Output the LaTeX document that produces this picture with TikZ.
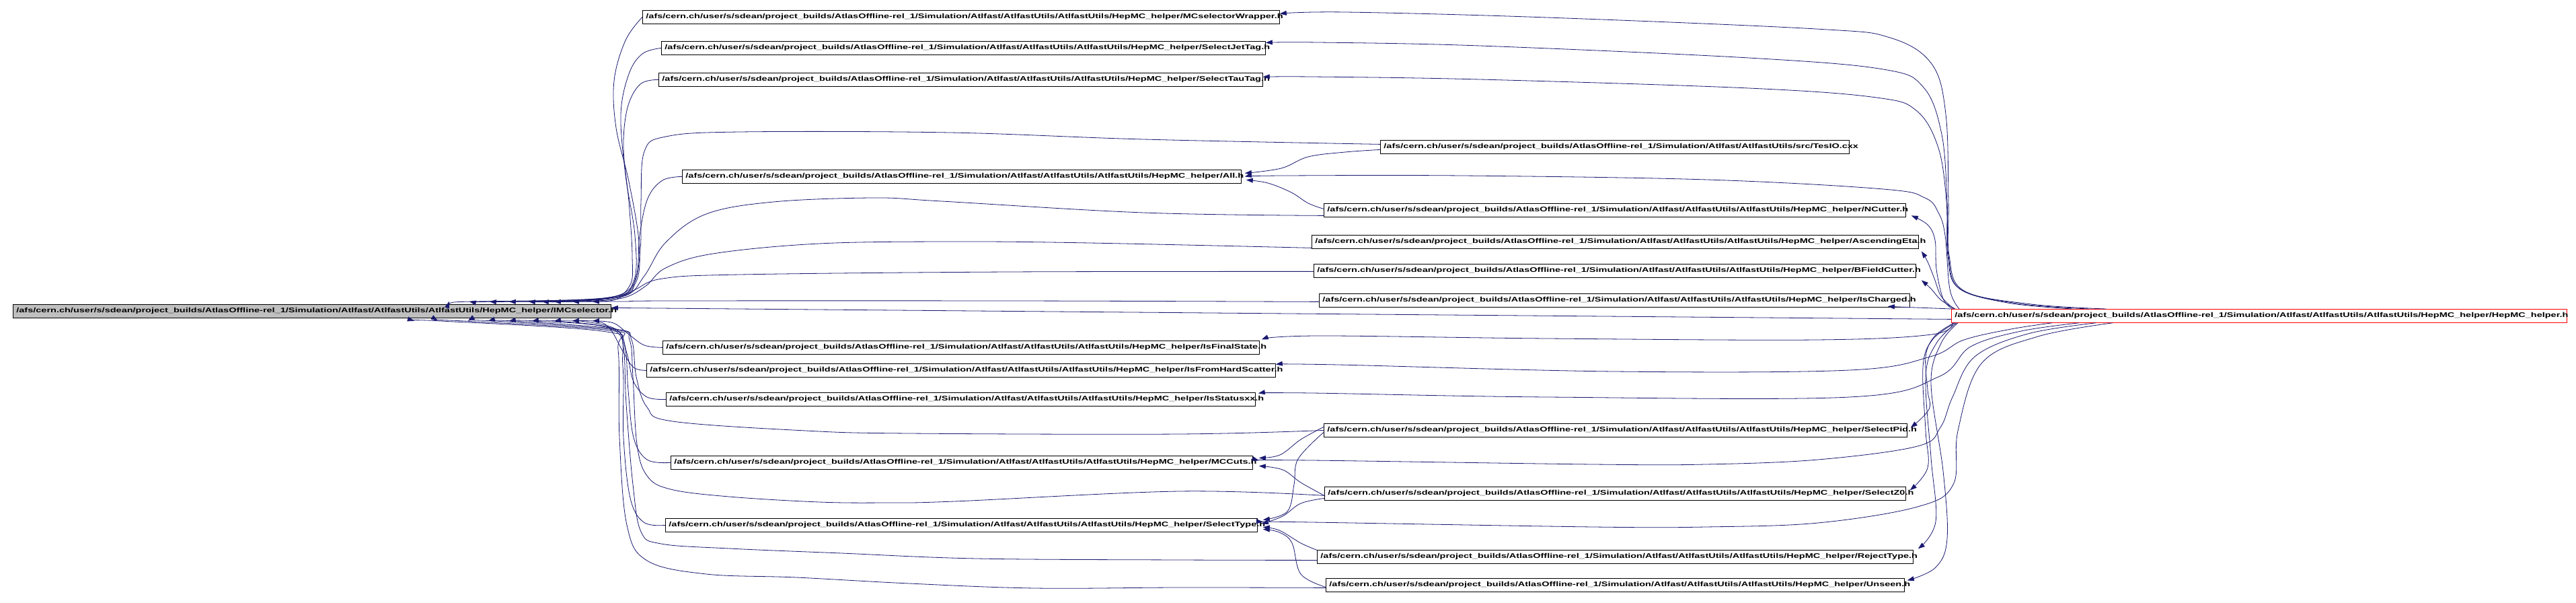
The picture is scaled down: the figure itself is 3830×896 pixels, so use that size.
\documentclass[tikz,border=0pt]{standalone}
\usepackage{fontspec}
\setmainfont[FakeStretch=1.45]{Liberation Sans}
\usetikzlibrary{arrows.meta}
\definecolor{dep_blue}{RGB}{25, 25, 112}
\definecolor{root_grey}{RGB}{191, 191, 191}
\tikzstyle{fn}=[rectangle,draw=black,anchor=north west,inner sep=0pt,
  minimum height=20pt,line width=0.8pt,font=\fontsize{10}{12}\selectfont\bfseries]
\tikzstyle{rootfn}=[fn,fill=root_grey]
\tikzstyle{truncfn}=[fn,draw=red]
\tikzstyle{inc}=[draw=dep_blue,line width=0.8pt,-{Triangle[length=10pt,width=7pt]}]
\newcommand{\hp}{/afs/cern.ch/user/s/sdean/project\_builds/AtlasOffline-rel\_1/Simulation/Atlfast/AtlfastUtils/AtlfastUtils/HepMC\_helper/}
\newcommand{\fname}[2]{\makebox[#1pt][l]{\hspace{5pt}#2}}

\begin{document}
\begin{tikzpicture}[x=1pt,y=1pt]
    \useasboundingbox (0,0) rectangle (3830,-896);
    \node [style=rootfn] (imc) at (19,-452) {\fname{889}{\hp IMCselector.h}};
    \node [style=truncfn] (hepmc) at (2901,-459) {\fname{915}{\hp HepMC\_helper.h}};
    \node [style=fn] (mcw) at (955,-15) {\fname{947}{\hp MCselectorWrapper.h}};
    \node [style=fn] (sjt) at (983,-61) {\fname{898}{\hp SelectJetTag.h}};
    \node [style=fn] (stt) at (979,-108) {\fname{898}{\hp SelectTauTag.h}};
    \node [style=fn] (all) at (1014,-252) {\fname{831}{\hp All.h}};
    \node [style=fn] (ifs) at (985,-506) {\fname{887}{\hp IsFinalState.h}};
    \node [style=fn] (ifhs) at (961,-540) {\fname{935}{\hp IsFromHardScatter.h}};
    \node [style=fn] (isx) at (990,-583) {\fname{876}{\hp IsStatusxx.h}};
    \node [style=fn] (mcc) at (997,-677) {\fname{865}{\hp MCCuts.h}};
    \node [style=fn] (styp) at (989,-770) {\fname{880}{\hp SelectType.h}};
    \node [style=fn] (tesio) at (2052,-208) {\fname{697}{/afs/cern.ch/user/s/sdean/project\_builds/AtlasOffline-rel\_1/Simulation/Atlfast/AtlfastUtils/src/TesIO.cxx}};
    \node [style=fn] (ncut) at (1968,-302) {\fname{865}{\hp NCutter.h}};
    \node [style=fn] (aeta) at (1950,-349) {\fname{902}{\hp AscendingEta.h}};
    \node [style=fn] (bfc) at (1953,-392) {\fname{895}{\hp BFieldCutter.h}};
    \node [style=fn] (isch) at (1961,-436) {\fname{878}{\hp IsCharged.h}};
    \node [style=fn] (spid) at (1968,-629) {\fname{867}{\hp SelectPid.h}};
    \node [style=fn] (sz0) at (1969,-723) {\fname{864}{\hp SelectZ0.h}};
    \node [style=fn] (rej) at (1958,-817) {\fname{886}{\hp RejectType.h}};
    \node [style=fn] (uns) at (1971,-859) {\fname{860}{\hp Unseen.h}};

    \draw[inc] plot[smooth,tension=0.6] coordinates {(mcw.west) (930,-60) (913,-120) (916,-190) (935,-270) (950,-360) (945,-420) (905,-443) (707,-448) ([xshift=-241pt,yshift=4pt]imc.north east)};
    \draw[inc] plot[smooth,tension=0.6] coordinates {(sjt.west) (955,-80) (935,-110) (923,-170) (930,-260) (944,-350) (942,-418) (905,-442) (737,-448) ([xshift=-211pt,yshift=4pt]imc.north east)};
    \draw[inc] plot[smooth,tension=0.6] coordinates {(stt.west) (952,-125) (933,-160) (927,-220) (935,-300) (940,-380) (936,-425) (900,-443) (767,-448) ([xshift=-181pt,yshift=4pt]imc.north east)};
    \draw[inc] plot[smooth,tension=0.6] coordinates {([yshift=4pt]tesio.west) (1700,-207) (1412,-197) (1100,-196) (990,-203) (958,-225) (953,-300) (952,-370) (940,-425) (895,-444) (796,-448) ([xshift=-152pt,yshift=4pt]imc.north east)};
    \draw[inc] plot[smooth,tension=0.6] coordinates {(all.west) (985,-268) (963,-295) (951,-350) (946,-410) (922,-440) (825,-448) ([xshift=-123pt,yshift=4pt]imc.north east)};
    \draw[inc] plot[smooth,tension=0.6] coordinates {([yshift=-8pt]ncut.west) (1700,-316) (1400,-299) (1300,-294) (1150,-300) (1050,-318) (990,-360) (958,-410) (928,-440) (845,-448) ([xshift=-103pt,yshift=4pt]imc.north east)};
    \draw[inc] plot[smooth,tension=0.6] coordinates {([yshift=-9pt]aeta.west) (1620,-361) (1419,-359) (1218,-362) (1060,-377) (990,-398) (960,-425) (925,-443) (863,-448) ([xshift=-85pt,yshift=4pt]imc.north east)};
    \draw[inc] plot[smooth,tension=0.6] coordinates {([yshift=-1pt]bfc.west) (1500,-404) (1100,-408) (985,-414) (945,-430) (915,-445) (890,-448) ([xshift=-58pt,yshift=4pt]imc.north east)};
    \draw[inc] plot[smooth,tension=0.6] coordinates {([yshift=-2pt]isch.west) (1500,-447) (1000,-447) (930,-448) ([xshift=-28pt,yshift=4pt]imc.north east)};
    \draw[inc] ([yshift=-5pt]hepmc.west) -- ([yshift=5pt]imc.east);
    \draw[inc] plot[smooth,tension=0.6] coordinates {(ifs.west) (958,-513) (935,-497) (912,-480) ([xshift=-28pt,yshift=-4pt]imc.south east)};
    \draw[inc] plot[smooth,tension=0.6] coordinates {(ifhs.west) (942,-546) (926,-522) (908,-490) (890,-478) ([xshift=-58pt,yshift=-4pt]imc.south east)};
    \draw[inc] plot[smooth,tension=0.6] coordinates {(isx.west) (962,-590) (942,-567) (932,-525) (917,-490) (863,-477) ([xshift=-85pt,yshift=-4pt]imc.south east)};
    \draw[inc] plot[smooth,tension=0.6] coordinates {(mcc.west) (962,-683) (942,-650) (934,-580) (929,-515) (911,-488) (830,-477) ([xshift=-118pt,yshift=-4pt]imc.south east)};
    \draw[inc] plot[smooth,tension=0.6] coordinates {(styp.west) (957,-776) (937,-740) (927,-650) (926,-545) (912,-490) (796,-477) ([xshift=-152pt,yshift=-4pt]imc.south east)};
    \draw[inc] plot[smooth,tension=0.6] coordinates {(spid.west) (1753,-645) (1352,-644) (1198,-640) (1000,-626) (962,-605) (946,-560) (939,-505) (916,-489) (765,-477) ([xshift=-183pt,yshift=-4pt]imc.south east)};
    \draw[inc] plot[smooth,tension=0.6] coordinates {([yshift=-3pt]sz0.west) (1753,-730) (1419,-745) (1318,-747) (1218,-746) (1084,-738) (997,-727) (962,-707) (947,-660) (941,-560) (936,-505) (913,-490) (735,-477) ([xshift=-213pt,yshift=-4pt]imc.south east)};
    \draw[inc] plot[smooth,tension=0.6] coordinates {([yshift=-5pt]rej.west) (1753,-832) (1452,-830) (1251,-822) (1084,-815) (983,-808) (953,-790) (941,-720) (931,-600) (926,-510) (906,-491) (690,-477) ([xshift=-258pt,yshift=-4pt]imc.south east)};
    \draw[inc] plot[smooth,tension=0.6] coordinates {([yshift=-4pt]uns.west) (1753,-873) (1539,-874) (1352,-867) (1184,-858) (1050,-853) (962,-833) (932,-780) (921,-650) (919,-520) (902,-493) (655,-477) ([xshift=-293pt,yshift=-4pt]imc.south east)};

    \draw[inc] plot[smooth,tension=0.6] coordinates {([xshift=230pt]hepmc.north west) (3020,-452) (2920,-432) (2898,-380) (2897,-300) (2893,-170) (2872,-95) (2810,-56) (2700,-43) (2300,-26) (2000,-18) ([yshift=5pt]mcw.east)};
    \draw[inc] plot[smooth,tension=0.6] coordinates {([xshift=205pt]hepmc.north west) (3000,-451) (2915,-430) (2897,-380) (2895,-300) (2887,-200) (2860,-130) (2800,-103) (2600,-86) (2200,-68) (1960,-63) ([yshift=8pt]sjt.east)};
    \draw[inc] plot[smooth,tension=0.6] coordinates {([xshift=180pt]hepmc.north west) (2985,-450) (2912,-428) (2896,-380) (2894,-300) (2882,-220) (2850,-165) (2790,-145) (2600,-131) (2200,-118) (1950,-114) ([yshift=4pt]stt.east)};
    \draw[inc] plot[smooth,tension=0.6] coordinates {([xshift=12pt]hepmc.north west) (2899,-430) (2892,-350) (2882,-316) (2862,-294) (2800,-281) (2538,-267) (2174,-261) (1910,-261) ([xshift=5pt]all.east)};
    \draw[inc] plot[smooth,tension=0.6] coordinates {([xshift=2pt]hepmc.north west) (2889,-444) (2879,-400) (2877,-357) (2866,-334) ([xshift=8pt,yshift=-8pt]ncut.east)};
    \draw[inc] plot[smooth,tension=0.6] coordinates {([xshift=4pt]hepmc.north west) (2886,-440) (2876,-414) (2866,-389) ([xshift=4pt,yshift=-14pt]aeta.east)};
    \draw[inc] plot[smooth,tension=0.6] coordinates {([xshift=6pt]hepmc.north west) (2886,-446) (2871,-429) ([xshift=8pt,yshift=-14pt]bfc.east)};
    \draw[inc] (hepmc.north west) -- ([xshift=-33pt,yshift=-9pt]isch.east);
    \draw[inc] plot[smooth,tension=0.6] coordinates {([xshift=2pt]hepmc.south west) (2872,-497) (2700,-505) (2300,-503) (1960,-499) ([xshift=3pt,yshift=12pt]ifs.east)};
    \draw[inc] plot[smooth,tension=0.6] coordinates {([xshift=150pt]hepmc.south west) (2990,-489) (2920,-505) (2870,-530) (2750,-550) (2400,-552) (1990,-542) ([yshift=9pt]ifhs.east)};
    \draw[inc] plot[smooth,tension=0.6] coordinates {([xshift=190pt]hepmc.south west) (3005,-492) (2930,-515) (2882,-560) (2750,-590) (2300,-590) (1950,-584) ([xshift=4pt,yshift=9pt]isx.east)};
    \draw[inc] plot[smooth,tension=0.6] coordinates {([xshift=215pt]hepmc.south west) (3015,-496) (2936,-530) (2903,-590) (2885,-635) (2851,-663) (2703,-683) (2536,-690) (2369,-690) (1950,-684) ([xshift=9pt,yshift=3pt]mcc.east)};
    \draw[inc] plot[smooth,tension=0.6] coordinates {([xshift=240pt]hepmc.south west) (3030,-500) (2946,-540) (2911,-640) (2904,-720) (2851,-753) (2703,-777) (2536,-783) (2369,-783) (1950,-776) ([xshift=8pt,yshift=5pt]styp.east)};
    \draw[inc] plot[smooth,tension=0.6] coordinates {([xshift=4pt]hepmc.south west) (2876,-500) (2863,-530) (2866,-580) (2868,-608) ([xshift=5pt,yshift=4pt]spid.east)};
    \draw[inc] plot[smooth,tension=0.6] coordinates {([xshift=6pt]hepmc.south west) (2873,-505) (2859,-545) (2863,-640) (2866,-695) ([xshift=6pt,yshift=5pt]sz0.east)};
    \draw[inc] plot[smooth,tension=0.6] coordinates {([xshift=8pt]hepmc.south west) (2879,-510) (2863,-560) (2871,-680) (2878,-775) ([xshift=7pt,yshift=12pt]rej.east)};
    \draw[inc] plot[smooth,tension=0.6] coordinates {([xshift=10pt]hepmc.south west) (2886,-510) (2871,-570) (2889,-700) (2895,-800) (2878,-843) ([xshift=4pt,yshift=7pt]uns.east)};

    \draw[inc] plot[smooth,tension=0.6] coordinates {([yshift=-4pt]tesio.west) (2000,-226) (1945,-233) (1905,-250) ([xshift=5pt,yshift=5pt]all.east)};
    \draw[inc] plot[smooth,tension=0.6] coordinates {([yshift=2pt]ncut.west) (1945,-302) (1920,-286) (1885,-272) ([xshift=7pt,yshift=-5pt]all.east)};
    \draw[inc] plot[smooth,tension=0.6] coordinates {([yshift=5pt]spid.west) (1934,-653) (1903,-676) ([xshift=9pt,yshift=7pt]mcc.east)};
    \draw[inc] plot[smooth,tension=0.6] coordinates {([yshift=-3pt]sz0.west) (1934,-717) (1907,-698) ([xshift=9pt,yshift=-5pt]mcc.east)};
    \draw[inc] plot[smooth,tension=0.6] coordinates {([yshift=-3pt]spid.west) (1930,-682) (1924,-720) (1914,-760) ([xshift=8pt,yshift=8pt]styp.east)};
    \draw[inc] plot[smooth,tension=0.6] coordinates {([yshift=-7pt]sz0.west) (1934,-748) (1907,-767) ([xshift=6pt,yshift=2pt]styp.east)};
    \draw[inc] plot[smooth,tension=0.6] coordinates {([yshift=10pt]rej.west) (1934,-807) (1902,-788) ([xshift=8pt,yshift=-3pt]styp.east)};
    \draw[inc] plot[smooth,tension=0.6] coordinates {([yshift=-3pt]uns.west) (1934,-853) (1921,-807) (1902,-791) ([xshift=8pt,yshift=-6pt]styp.east)};
  \end{tikzpicture}
\end{document}
